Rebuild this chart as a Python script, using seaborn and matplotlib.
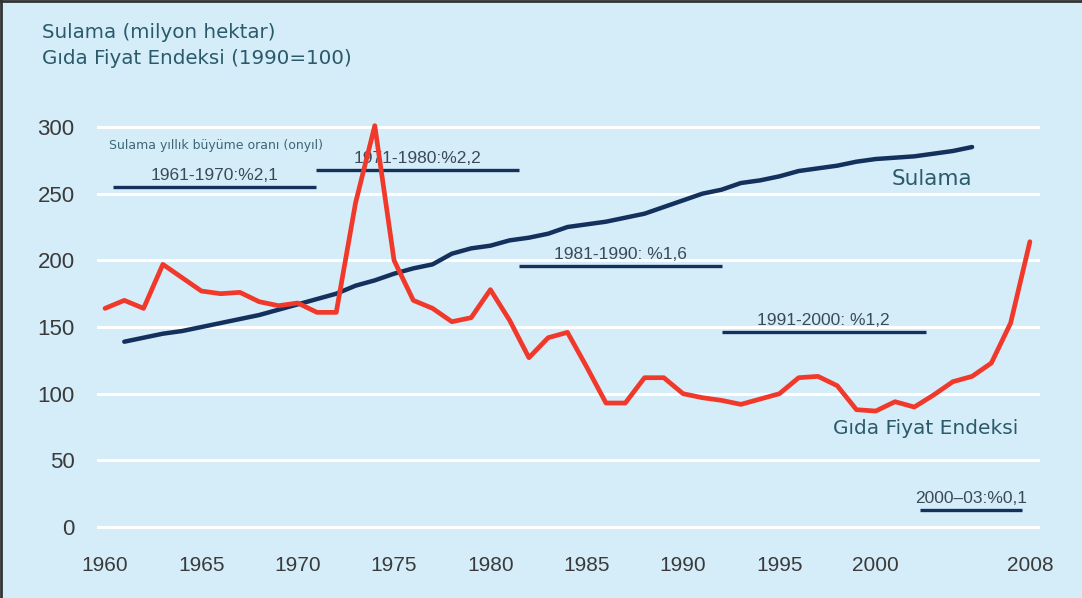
import matplotlib
matplotlib.use("Agg")
import matplotlib.pyplot as plt
import seaborn as sns
import pandas as pd
from matplotlib.lines import Line2D

# ------------------------ data ------------------------
sulama_years = list(range(1961, 2006))
sulama_vals = [139, 142, 145, 147, 150, 153, 156, 159, 163, 167,
               171, 175, 181, 185, 190, 194, 197, 205, 209, 211,
               215, 217, 220, 225, 227, 229, 232, 235, 240, 245,
               250, 253, 258, 260, 263, 267, 269, 271, 274, 276,
               277, 278, 280, 282, 285]

gida_years = list(range(1960, 2009))
gida_vals = [164, 170, 164, 197, 187, 177, 175, 176, 169, 166,
             168, 161, 161, 243, 301, 200, 170, 164, 154, 157,
             178, 155, 127, 142, 146, 120, 93, 93, 112, 112,
             100, 97, 95, 92, 96, 100, 112, 113, 106, 88,
             87, 94, 90, 99, 109, 113, 123, 153, 214]

# decade growth rates of irrigation (label, from, to, level)
dec_labels = ["1961-1970:%2,1", "1971-1980:%2,2", "1981-1990: %1,6",
              "1991-2000: %1,2", "2000\u201303:%0,1"]
dec_start = [1960.4, 1970.95, 1981.5, 1992.0, 2002.3]
dec_end = [1970.95, 1981.5, 1992.0, 2002.6, 2007.6]
dec_level = [255, 268, 196, 146, 13]

x_ticks = [1960, 1965, 1970, 1975, 1980, 1985, 1990, 1995, 2000, 2008]
y_ticks = [0, 50, 100, 150, 200, 250, 300]

# ------------------------ style ------------------------
BG = "#d5edf9"
NAVY = "#14305c"
RED = "#f0392b"
TXT = "#2b5a6b"
LIB = ["Liberation Sans", "DejaVu Sans"]
sns.set_style("white")
plt.rcParams["font.family"] = ["DejaVu Sans"]

df_s = pd.DataFrame({"yil": sulama_years, "deger": sulama_vals})
df_g = pd.DataFrame({"yil": gida_years, "deger": gida_vals})

fig = plt.figure(figsize=(10.82, 5.98), dpi=100, facecolor=BG)
ax = fig.add_axes([0.0896, 0.1075, 0.8715, 0.747])
ax.set_facecolor(BG)

for y in y_ticks:
    ax.axhline(y, color="white", lw=2.2, zorder=0)

sns.lineplot(data=df_s, x="yil", y="deger", ax=ax, color=NAVY, lw=3.2,
             zorder=3)
sns.lineplot(data=df_g, x="yil", y="deger", ax=ax, color=RED, lw=3.4,
             zorder=4)

# decade segments
for lab, a, b, lv in zip(dec_labels, dec_start, dec_end, dec_level):
    ax.plot([a, b], [lv, lv], color=NAVY, lw=2.4, zorder=2,
            solid_capstyle="butt")
    ax.text((a + b) / 2, lv + 3, lab, ha="center", va="bottom",
            fontsize=12.5, color="#3a4a58", family=LIB)

ax.text(1960.2, 286, "Sulama yıllık büyüme oranı (onyıl)", fontsize=9,
        color="#3d6677", ha="left", va="center")
ax.text(2002.9, 261, "Sulama", fontsize=15.5, color=TXT, ha="center",
        va="center")
ax.text(2002.6, 74, "Gıda Fiyat Endeksi", fontsize=14.5, color=TXT,
        ha="center", va="center")

ax.set_xlim(1959.58, 2008.52)
ax.set_ylim(-5, 330)
ax.set_xticks(x_ticks)
ax.set_xticklabels([str(t) for t in x_ticks], family=LIB,
                   fontsize=15, color="#3a3a3a")
ax.set_yticks(y_ticks)
ax.set_yticklabels([str(t) for t in y_ticks], family=LIB,
                   fontsize=16, color="#3a3a3a")
ax.tick_params(axis="x", length=0, pad=16)
ax.tick_params(axis="y", length=0, pad=16)
ax.set_xlabel("")
ax.set_ylabel("")
for s in ax.spines.values():
    s.set_visible(False)

fig.text(0.039, 0.945, "Sulama (milyon hektar)", fontsize=14.3, color=TXT,
         ha="left", va="center")
fig.text(0.039, 0.903, "Gıda Fiyat Endeksi (1990=100)", fontsize=14.3,
         color=TXT, ha="left", va="center")

# frame on left and top
fig.add_artist(Line2D([0.001, 0.001], [0, 1], color="#333333", lw=2,
                      transform=fig.transFigure))
fig.add_artist(Line2D([0, 1], [0.999, 0.999], color="#333333", lw=2,
                      transform=fig.transFigure))

fig.savefig("out.png", dpi=100, facecolor=BG)
